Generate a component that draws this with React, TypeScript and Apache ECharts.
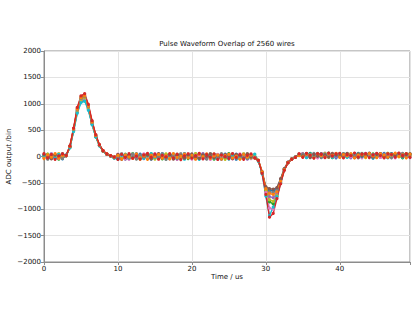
import React, { useEffect, useRef } from "react";
import * as echarts from "echarts";

const TITLE = "Pulse Waveform Overlap of 2560 wires";
const X_NAME = "Time / us";
const Y_NAME = "ADC output /bin";
const SAMPLE_PERIOD = 0.5; // us per sample

const COLORS = {
  blue: "#1f77b4", orange: "#ff7f0e", green: "#2ca02c", red: "#d62728", purple: "#9467bd",
  brown: "#8c564b", pink: "#e377c2", gray: "#7f7f7f", olive: "#bcbd22", cyan: "#17becf",
};

const wireBlue = [
  24, -36, 50, -16, 30, -44, 30, 180, 500, 860,
  1070, 1100, 910, 630, 380, 210, 100, 45, 12, -20,
  -44, -30, 16, -40, 28, -12, 44, -24, 10, -50,
  36, -18, 52, -30, 6, 40, -48, 22, -14, 32,
  -38, 48, -6, 24, -42, 14, 38, -28, 4, 46,
  -22, 30, -52, 18, -8, 42, -34, -16, -80, -300,
  -590, -640, -650, -610, -430, -235, -110, -50, -10, 36,
  50, 20, 60, 8, 42, -18, 56, 12, 34, -24,
  44, 6, 54, -16, 28, 58, -10, 38, 16, -32,
  48, 4, 58, -20, 32, 10, 52, -14, 26, 40,
];
const wireOrange = [
  -40, 28, -12, 56, -30, 18, 12, 190, 525, 900,
  1115, 1150, 955, 655, 400, 220, 105, 48, 15, -12,
  20, -48, 32, -8, -38, 46, -22, 12, -54, 26,
  -4, 38, -32, 16, -46, 54, -18, 8, 42, -26,
  22, -52, 34, -2, 50, -36, 10, 28, -44, 18,
  40, -24, 6, -48, 36, -14, 24, -28, -70, -290,
  -610, -700, -720, -670, -470, -250, -118, -52, -16, 20,
  -8, 44, 30, -26, 54, 16, -12, 48, 22, 60,
  -18, 36, 10, 52, -28, 24, 42, -6, 56, 14,
  -22, 50, 28, -12, 38, 62, 0, 32, -26, 44,
];
const wireGreen = [
  10, 44, -28, 20, -50, 34, 18, 170, 485, 840,
  1045, 1080, 895, 615, 375, 205, 98, 42, 10, -28,
  30, -16, -42, 24, 52, -34, 8, 36, -20, 48,
  -26, 14, -44, 40, 18, -36, 28, -10, 54, -40,
  6, 32, -22, 44, -16, 26, -50, 38, 12, -30,
  54, -4, 28, -38, 16, 46, -20, -12, -85, -305,
  -640, -860, -900, -760, -500, -255, -115, -48, -12, 28,
  38, -14, 52, 26, -6, 48, 18, 62, -22, 34,
  12, 56, -8, 40, 30, -18, 54, 24, 6, 50,
  -12, 36, 20, 58, -4, 42, 14, -24, 48, 30,
];
const wireRed = [
  56, -24, 38, -54, 12, 48, 22, 200, 540, 930,
  1150, 1190, 990, 680, 415, 225, 110, 50, 18, -8,
  -56, 40, -18, 54, -32, 6, -48, 30, 58, -14,
  46, -52, 22, -8, 56, -24, 42, -58, 14, 52,
  -30, 18, 60, -46, 36, -12, 50, -56, 28, -2,
  -40, 56, -16, 34, -54, 22, 48, -24, -75, -320,
  -720, -1150, -1080, -800, -520, -265, -120, -54, -16, 52,
  -16, 60, 24, -30, 56, 40, -22, 66, 10, 48,
  58, -26, 34, 16, 64, -12, 44, 54, -20, 30,
  60, 18, -28, 52, 36, -10, 66, 22, 54, -16,
];
const wirePurple = [
  -16, 34, 6, -38, 44, -8, 14, 175, 505, 875,
  1090, 1120, 930, 640, 390, 212, 102, 46, 14, -16,
  -24, 36, -50, 14, 42, -28, 20, -40, 32, 4,
  -34, 50, -12, 26, -44, 38, 0, -26, 48, -18,
  28, -42, 12, 54, -24, -6, 34, -48, 20, 42,
  -14, 24, 46, -32, 8, -50, 32, -18, -78, -295,
  -620, -760, -780, -700, -470, -245, -112, -50, -14, 24,
  40, 10, -18, 46, 28, 56, -4, 36, 50, -14,
  26, 48, 2, -24, 54, 32, 18, 60, -8, 38,
  22, -16, 46, 34, 56, -6, 24, 50, 12, -20,
];
const wireBrown = [
  42, -10, -46, 28, -22, 54, 16, 195, 530, 910,
  1130, 1165, 965, 665, 405, 218, 106, 47, 13, -18,
  38, -54, 8, 32, -26, 50, -38, 16, 24, -44,
  12, 56, -28, -4, 34, -50, 46, 18, -32, 22,
  48, -14, -38, 30, 4, 52, -24, 16, -52, 36,
  8, -42, 38, 26, -28, 52, -10, -32, -82, -285,
  -570, -610, -620, -590, -420, -230, -108, -46, -10, 44,
  14, 54, -20, 38, 4, 48, 32, -12, 58, 26,
  -4, 42, 60, 20, -22, 50, 8, 36, 64, -14,
  40, 56, 6, -18, 48, 28, 58, -2, 34, 52,
];
const wirePink = [
  -28, 18, 48, -4, -34, 24, 12, 172, 492, 850,
  1058, 1090, 905, 622, 382, 207, 99, 44, 11, -24,
  46, 4, -36, -52, 18, 34, -16, 50, -30, 12,
  54, -40, 30, 6, -22, 16, -54, 40, 26, -8,
  -48, 36, 18, -32, 46, -56, 8, 42, -18, 24,
  32, -46, -2, 50, -22, 12, -40, -6, -72, -310,
  -680, -980, -1000, -780, -500, -258, -116, -50, -14, 32,
  54, -10, 38, 16, -26, 44, 62, 2, 28, 52,
  -14, 32, 46, -2, 58, 14, -24, 48, 36, 8,
  56, -18, 30, 44, 12, -28, 54, 38, -6, 22,
];
const wireGray = [
  32, -52, 14, 40, -12, -36, 20, 185, 515, 885,
  1100, 1135, 940, 648, 395, 215, 104, 46, 16, -14,
  -12, 52, -4, -30, 40, -50, 26, -8, 42, -36,
  18, -14, 48, -56, 24, 8, -40, 52, -24, 34,
  0, -28, 44, -18, -50, 40, 22, -36, 54, -12,
  26, 48, -30, 4, 42, -38, 16, -22, -76, -298,
  -600, -670, -680, -640, -450, -240, -110, -48, -12, 16,
  48, 26, -12, 58, 36, -20, 46, 20, -4, 56,
  34, -8, 50, 28, 12, -26, 60, 4, 42, 24,
  -10, 54, 36, 8, -24, 46, 32, 58, -12, 38,
];
const wireOlive = [
  -6, 40, -34, 10, 52, -26, 20, 178, 498, 865,
  1080, 1110, 920, 633, 388, 210, 100, 45, 13, -22,
  14, -38, 46, -20, -6, 38, -52, 22, 6, 40,
  -48, 24, 2, 50, -34, 28, -12, -42, 36, 10,
  -22, 54, -40, 8, 32, -20, 44, -4, 26, -54,
  18, 36, -8, -44, 52, 2, -26, 38, -80, -302,
  -630, -820, -850, -740, -480, -250, -114, -50, -12, 30,
  4, 50, 34, -8, 42, 22, 58, -18, 32, 46,
  20, -12, 56, 38, -4, 48, 26, -22, 52, 16,
  36, 42, -14, 60, 18, 30, -8, 44, 54, 6,
];
const wireCyan = [
  20, -42, 26, -24, 38, 8, 10, 165, 470, 820,
  1020, 1050, 875, 600, 368, 200, 95, 40, 8, -32,
  -50, 22, 40, -26, -14, 48, -4, -38, 18, 54,
  -20, -6, 38, -48, 28, 44, -16, 34, -52, 20,
  40, -24, -54, 14, 26, 48, -34, 4, -40, 32,
  -48, 12, 42, -20, 30, -36, 6, 44, -90, -330,
  -750, -1120, -960, -760, -500, -250, -114, -50, -12, 40,
  28, -22, 46, 12, 60, -6, 36, 50, -16, 24,
  52, 18, -18, 44, 22, 56, -2, 30, 58, -24,
  14, 48, 32, -22, 56, 6, 40, -12, 28, 50,
];

const WIRES: { name: string; color: string; values: number[] }[] = [
  { name: "wire blue", color: COLORS.blue, values: wireBlue },
  { name: "wire green", color: COLORS.green, values: wireGreen },
  { name: "wire purple", color: COLORS.purple, values: wirePurple },
  { name: "wire pink", color: COLORS.pink, values: wirePink },
  { name: "wire olive", color: COLORS.olive, values: wireOlive },
  { name: "wire cyan", color: COLORS.cyan, values: wireCyan },
  { name: "wire gray", color: COLORS.gray, values: wireGray },
  { name: "wire brown", color: COLORS.brown, values: wireBrown },
  { name: "wire orange", color: COLORS.orange, values: wireOrange },
  { name: "wire red", color: COLORS.red, values: wireRed },
];

const FONT = "DejaVu Sans";

export default function App() {
  const ref = useRef<HTMLDivElement>(null);
  useEffect(() => {
    if (!ref.current) return;
    const chart = echarts.init(ref.current, null, { renderer: "svg" });
    const plotLeft = 44;
    const plotRight = 410;
    chart.setOption({
      animation: false,
      backgroundColor: "#ffffff",
      textStyle: { fontFamily: FONT },
      grid: {
        left: plotLeft, right: 415 - plotRight, top: 51, bottom: 59,
        containLabel: false, outerBoundsMode: "none",
        show: true, borderColor: "#8c8c8c", borderWidth: 1, backgroundColor: "transparent",
      },
      graphic: [
        {
          type: "text",
          x: (plotLeft + plotRight) / 2,
          y: 44,
          style: {
            text: TITLE, align: "center", verticalAlign: "middle",
            fontFamily: FONT, fontSize: 7, fill: "#111",
          },
        },
      ],
      xAxis: {
        type: "value", min: 0, max: 49.5, interval: 10,
        name: X_NAME, nameLocation: "middle", nameGap: 11, nameMoveOverlap: false,
        nameTextStyle: { fontFamily: FONT, fontSize: 7, color: "#111" },
        axisLine: { show: true, onZero: false, lineStyle: { color: "#8c8c8c", width: 1 } },
        axisTick: { show: true, length: 3, lineStyle: { color: "#8c8c8c" } },
        axisLabel: {
          fontFamily: FONT, fontSize: 7, color: "#111", margin: 3,
          formatter: (v: number) => (v % 10 === 0 ? String(v) : ""),
        },
        splitLine: { show: true, lineStyle: { color: "#e3e3e3", width: 1 } },
      },
      yAxis: {
        type: "value", min: -2000, max: 2000, interval: 500,
        name: Y_NAME, nameLocation: "middle", nameGap: 32, nameMoveOverlap: false,
        nameTextStyle: { fontFamily: FONT, fontSize: 7, color: "#111" },
        axisLine: { show: true, onZero: false, lineStyle: { color: "#8c8c8c", width: 1 } },
        axisTick: { show: true, length: 3, lineStyle: { color: "#8c8c8c" } },
        axisLabel: {
          fontFamily: FONT, fontSize: 7, color: "#111", margin: 3,
          formatter: (v: number) => (v < 0 ? "\u2212" + Math.abs(v) : String(v)),
        },
        splitLine: { show: true, lineStyle: { color: "#e3e3e3", width: 1 } },
      },
      series: WIRES.map((w) => ({
        type: "line",
        name: w.name,
        data: w.values.map((v, i) => [i * SAMPLE_PERIOD, v]),
        showSymbol: true,
        symbol: "circle",
        symbolSize: 3.2,
        color: w.color,
        itemStyle: { color: w.color, borderWidth: 0 },
        lineStyle: { color: w.color, width: 1.4 },
        emphasis: { disabled: true },
        silent: true,
      })),
    });
    return () => chart.dispose();
  }, []);
  return (
    <div
      ref={ref}
      style={{ position: "fixed", left: 0, top: 0, width: 415, height: 321 }}
    />
  );
}
